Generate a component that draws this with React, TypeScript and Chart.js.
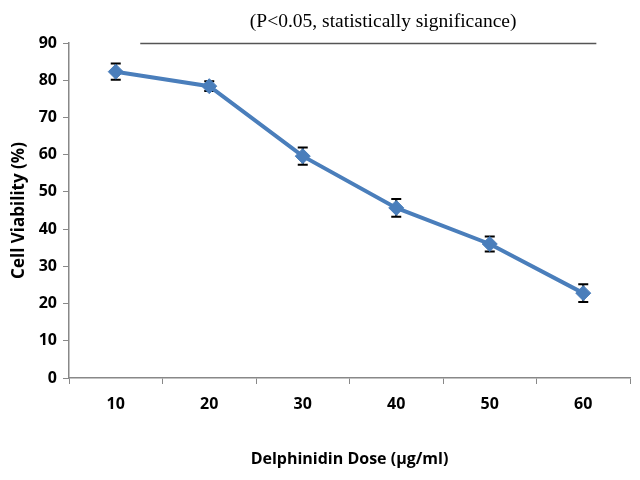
import React, { useEffect, useRef } from "react";
import { Chart, registerables } from "chart.js";

Chart.register(...registerables);

const doses = ["10", "20", "30", "40", "50", "60"];
const viability = [82.3, 78.4, 59.6, 45.7, 36.0, 22.8];
const errors = [2.2, 1.3, 2.3, 2.4, 2.0, 2.4];
const yTicks = [0, 10, 20, 30, 40, 50, 60, 70, 80, 90];
const noteText = "(P<0.05, statistically significance)";

const errorBarPlugin = {
  id: "errorBars",
  beforeDatasetsDraw(chart: any) {
    const ctx = chart.ctx;
    const x = chart.scales.x;
    const y = chart.scales.y;
    ctx.save();
    ctx.strokeStyle = "#000";
    ctx.lineWidth = 2;
    viability.forEach((v, i) => {
      const px = x.getPixelForValue(i);
      const top = y.getPixelForValue(v + errors[i]);
      const bot = y.getPixelForValue(v - errors[i]);
      ctx.beginPath();
      ctx.moveTo(px, top);
      ctx.lineTo(px, bot);
      ctx.moveTo(px - 5, top);
      ctx.lineTo(px + 5, top);
      ctx.moveTo(px - 5, bot);
      ctx.lineTo(px + 5, bot);
      ctx.stroke();
    });
    ctx.restore();
  },
};

const notePlugin = {
  id: "note",
  afterDraw(chart: any) {
    const ctx = chart.ctx;
    const a = chart.chartArea;
    const w = a.right - a.left;
    ctx.save();
    ctx.strokeStyle = "#555";
    ctx.lineWidth = 1.5;
    ctx.beginPath();
    ctx.moveTo(a.left + w * 0.127, a.top + 0.5);
    ctx.lineTo(a.left + w * 0.94, a.top + 0.5);
    ctx.stroke();
    ctx.fillStyle = "#000";
    ctx.font = "19.5px 'Liberation Serif', serif";
    ctx.textAlign = "center";
    ctx.textBaseline = "middle";
    ctx.fillText(noteText, a.left + w * 0.56, a.top - 21);
    ctx.restore();
  },
};

export default function App() {
  const ref = useRef<HTMLCanvasElement>(null);
  useEffect(() => {
    document.body.style.margin = "0";
    const chart = new Chart(ref.current!, {
      type: "line",
      data: {
        labels: doses,
        datasets: [
          {
            data: viability,
            borderColor: "#4a7ebb",
            backgroundColor: "#4a7ebb",
            borderWidth: 4,
            pointStyle: "rectRot",
            pointRadius: 7.5,
            pointBorderWidth: 1,
            pointBorderColor: "#4a7ebb",
            tension: 0,
          },
        ],
      },
      options: {
        animation: false,
        responsive: false,
        layout: { padding: { top: 43, right: 10, left: 0, bottom: 0 } },
        plugins: { legend: { display: false }, tooltip: { enabled: false }, title: { display: false } },
        scales: {
          x: {
            type: "category",
            offset: true,
            grid: { offset: true, drawOnChartArea: false, tickLength: 6, color: "#888", lineWidth: 1 },
            border: { color: "#888", width: 1.5 },
            ticks: { color: "#000", padding: 11, font: { family: "'Open Sans'", size: 16, weight: "bold" } },
            title: {
              display: true,
              text: "Delphinidin Dose (µg/ml)",
              color: "#000",
              padding: { top: 12, bottom: 11 },
              font: { family: "'Open Sans'", size: 16, weight: "bold" },
            },
            afterFit(s: any) {
              s.height = 102;
            },
          },
          y: {
            min: 0,
            max: 90,
            afterBuildTicks(s: any) {
              s.ticks = yTicks.map((v) => ({ value: v }));
            },
            grid: { drawOnChartArea: false, tickLength: 6, color: "#888" },
            border: { color: "#888", width: 1.5 },
            ticks: { color: "#000", padding: 6, font: { family: "'Open Sans'", size: 16, weight: "bold" } },
            title: {
              display: true,
              text: "Cell Viability (%)",
              color: "#000",
              padding: { bottom: 4, top: 9 },
              font: { family: "'Open Sans'", size: 17, weight: "bold" },
            },
            afterFit(s: any) {
              s.width = 69;
            },
          },
        },
      },
      plugins: [errorBarPlugin, notePlugin],
    });
    return () => chart.destroy();
  }, []);
  return <canvas ref={ref} width={640} height={480} />;
}
